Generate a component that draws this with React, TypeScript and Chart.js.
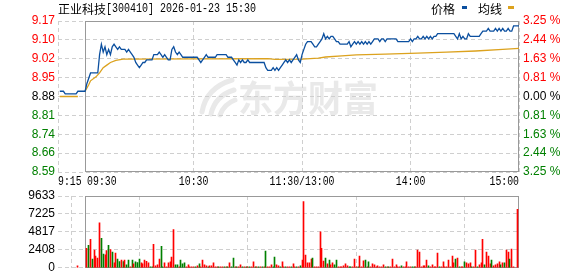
import React, { useEffect, useRef } from "react";
import { Chart, registerables } from "chart.js";

Chart.register(...registerables);

// ---------- text ----------
const stockName = "正业科技";
const stockCodeAndTime = "[300410] 2026-01-23 15:30";
const legendLabels = ["价格", "均线"];
const watermarkText = "东方财富";

// ---------- axes ----------
const prevClose = 8.88;
const pctRange = 3.25;
const timeTickMinutes = [0, 15, 75, 135, 195, 255];
const timeTickLabels = ["9:15", "09:30", "10:30", "11:30/13:00", "14:00", "15:00"];
// bottom -> top
const priceTickLabels = ["8.59", "8.66", "8.74", "8.81", "8.88", "8.95", "9.02", "9.10", "9.17"];
const pctTickLabels = ["3.25 %", "2.44 %", "1.63 %", "0.81 %", "0.00 %", "0.81 %", "1.63 %", "2.44 %", "3.25 %"];
const volMax = 9633;
const volTickValues = [0, 2408, 4817, 7225, 9633];
const volTickLabels = ["0", "2408", "4817", "7225", "9633"];

// ---------- price (minute index: 0 = 9:15, 15 = 9:30, 135 = 11:30/13:00, 255 = 15:00) ----------
const preMarketMinutes = [1, 3, 4, 10, 11, 15];
const preMarketPrices = [8.9, 8.9, 8.89, 8.89, 8.9, 8.9];
const sessionStartMinute = 16;
const sessionPrices = [
  8.93, 8.95, 8.97, 8.97, 8.97, 8.97, 8.97, 9.04, 9.08, 9.05,
  9.07, 9.04, 9.06, 9.04, 9.07, 9.08, 9.07, 9.06, 9.07, 9.06,
  9.06, 9.06, 9.05, 9.06, 9.05, 9.04, 9.03, 9.01, 9.0, 8.99,
  9.0, 9.01, 9.01, 9.02, 9.02, 9.02, 9.02, 9.04, 9.04, 9.04,
  9.05, 9.04, 9.03, 9.04, 9.03, 9.02, 9.02, 9.06, 9.07, 9.05,
  9.04, 9.05, 9.04, 9.03, 9.03, 9.03, 9.03, 9.03, 9.03, 9.03,
  9.03, 9.03, 9.02, 9.01, 9.02, 9.03, 9.04, 9.03, 9.03, 9.03,
  9.03, 9.03, 9.04, 9.04, 9.04, 9.04, 9.04, 9.04, 9.03, 9.03,
  9.03, 9.02, 9.01, 9.0, 9.02, 9.01, 9.02, 9.01, 9.01, 9.02,
  9.01, 9.01, 9.01, 9.01, 9.01, 9.01, 9.01, 9.01, 9.01, 8.99,
  8.98, 8.98, 8.98, 8.99, 8.98, 8.99, 8.98, 8.99, 9.0, 9.01,
  9.02, 9.01, 9.02, 9.01, 9.02, 9.03, 9.04, 9.02, 9.01, 9.04,
  9.06, 9.08, 9.09, 9.09, 9.09, 9.08, 9.07, 9.07, 9.08, 9.09,
  9.1, 9.12, 9.1, 9.11, 9.1, 9.11, 9.11, 9.1, 9.09, 9.09,
  9.08, 9.08, 9.08, 9.08, 9.08, 9.09, 9.07, 9.08, 9.09, 9.08,
  9.09, 9.08, 9.09, 9.08, 9.09, 9.08, 9.09, 9.08, 9.09, 9.1,
  9.1, 9.1, 9.09, 9.1, 9.1, 9.09, 9.1, 9.1, 9.1, 9.1,
  9.1, 9.1, 9.09, 9.09, 9.09, 9.09, 9.09, 9.09, 9.09, 9.1,
  9.09, 9.1, 9.1, 9.11, 9.1, 9.1, 9.11, 9.1, 9.11, 9.1,
  9.11, 9.1, 9.11, 9.11, 9.12, 9.12, 9.12, 9.12, 9.12, 9.12,
  9.12, 9.12, 9.12, 9.12, 9.11, 9.1, 9.12, 9.1, 9.11, 9.1,
  9.1, 9.12, 9.11, 9.11, 9.11, 9.11, 9.11, 9.11, 9.12, 9.13,
  9.13, 9.13, 9.14, 9.13, 9.13, 9.13, 9.14, 9.13, 9.14, 9.13,
  9.14, 9.13, 9.13, 9.14, 9.13, 9.13, 9.15,
];
const closeMinute = 255;
const closePrice = 9.15;

// ---------- average price line ----------
const avgMinutes = [1, 11, 13, 15, 17, 18, 21, 23, 25, 27, 29, 32, 36, 116, 120, 135, 144, 148, 157, 165, 181, 199, 215, 231, 246, 255];
const avgValues = [8.88, 8.88, null, 8.9, 8.925, 8.94, 8.955, 8.97, 8.99, 9.0, 9.01, 9.018, 9.023, 9.025, 9.022, 9.023, 9.027, 9.031, 9.035, 9.039, 9.042, 9.046, 9.05, 9.054, 9.06, 9.064];

// ---------- volume ----------
const auctionMinute = 11;
const auctionVolume = 260;
const volStartMinute = 16;
const volumes = [
  2627, 3021, 3809, 1182, 2364, 1576, 1313, 6042, 3940, 1839,
  1751, 2320, 3021, 2452, 2102, 657, 1970, 1182, 832, 1051,
  832, 1051, 394, 1051, 131, 1051, 525, 788, 700, 1182,
  657, 525, 1051, 876, 657, 131, 131, 3152, 263, 394,
  1182, 2890, 131, 657, 131, 657, 788, 1445, 5123, 394,
  394, 131, 1051, 525, 657, 131, 394, 131, 131, 131,
  131, 263, 525, 131, 1051, 394, 263, 131, 263, 263,
  657, 131, 131, 131, 131, 131, 131, 131, 131, 657,
  131, 1313, 131, 131, 131, 394, 131, 131, 131, 131,
  131, 131, 788, 131, 131, 131, 131, 131, 131, 2233,
  131, 131, 394, 131, 1445, 394, 263, 131, 788, 131,
  131, 131, 131, 131, 525, 131, 131, 131, 263, 1051,
  8870, 1700, 655, 655, 1180, 1310, 131, 131, 131, 4840,
  2615, 915, 1310, 525, 1045, 394, 657, 394, 1045, 131,
  131, 131, 263, 525, 263, 131, 131, 131, 1182, 131,
  131, 1576, 131, 920, 1051, 131, 788, 131, 525, 394,
  131, 263, 131, 131, 394, 131, 131, 131, 131, 1182,
  131, 394, 131, 131, 263, 131, 131, 788, 131, 131,
  131, 131, 131, 2364, 2102, 131, 263, 263, 1051, 263,
  131, 394, 131, 131, 1970, 131, 131, 788, 131, 131,
  1051, 131, 1576, 657, 1182, 1313, 131, 131, 131, 788,
  657, 525, 657, 131, 131, 2364, 131, 394, 657, 3809,
  394, 2102, 1576, 525, 1051, 263, 394, 525, 788, 394,
  657, 657, 2364, 2102, 1182, 2495, 131,
];
// u = price up (red), d = price down (green)
const volTrend = [
  "ududuuuudd", "uududuuddu", "duddududdd", "uuuuudduuu", "udduuuuuud",
  "duddduuuuu", "duduuuuduu", "uuuduududu", "dduduududu", "duudududud",
  "uuudduuduu", "duuduududu", "uuuuuduuuu", "uududuuddu", "uuuuudduuu",
  "duuududuuu", "uuuuududuu", "uuuuduuuuu", "dduuuuuuud", "uuuuuduuuu",
  "uuuududuud", "uuuduuduuu", "duuuduuuud", "uduuduu",
].join("");
const closeVolume = 7850;

// ---------- styles ----------
const RED = "#ff0000";
const GREEN = "#008000";
const DARK = "#000000";
const GRID = "#cfcfcf";
const FRAME = "#999999";
const BLUE = "#0b4f9f";
const ORANGE = "#dca21e";
const LABEL_FONT = { family: "'Liberation Sans', Arial, sans-serif", size: 12 };

const priceMin = prevClose * (1 - pctRange / 100);
const priceMax = prevClose * (1 + pctRange / 100);

const framePlugin = {
  id: "frame",
  beforeDatasetsDraw(chart: any) {
    const { ctx, chartArea } = chart;
    const xs = chart.scales.x;
    const x0 = Math.round(xs.getPixelForValue(timeTickMinutes[1])) + 0.5;
    const x1 = Math.round(xs.getPixelForValue(timeTickMinutes[timeTickMinutes.length - 1])) - 0.5;
    const y0 = Math.round(chartArea.top) + 0.5;
    const y1 = Math.round(chartArea.bottom) - 0.5;
    ctx.save();
    ctx.strokeStyle = FRAME;
    ctx.lineWidth = 1;
    ctx.strokeRect(x0, y0, x1 - x0, y1 - y0);
    ctx.restore();
  },
};

// snap the 1px volume bars onto whole pixels (inside the frame) so they render crisp
const crispBarsPlugin = {
  id: "crispBars",
  beforeDatasetsDraw(chart: any) {
    const limit = Math.round(chart.chartArea.right) - 1.5;
    chart.getSortedVisibleDatasetMetas().forEach((meta: any) => {
      meta.data.forEach((el: any) => {
        el.x = Math.min(Math.floor(el.x) + 0.5, limit);
        el.width = 1;
      });
    });
  },
};

const watermarkPlugin = {
  id: "watermark",
  beforeDraw(chart: any) {
    const { ctx } = chart;
    ctx.save();
    ctx.fillStyle = "#e9e9e9";
    ctx.strokeStyle = "#e9e9e9";
    ctx.lineCap = "round";
    ctx.lineWidth = 5;
    ctx.beginPath();
    ctx.moveTo(202, 112);
    ctx.quadraticCurveTo(206, 88, 232, 80);
    ctx.stroke();
    ctx.beginPath();
    ctx.moveTo(211, 114);
    ctx.quadraticCurveTo(215, 96, 234, 90);
    ctx.stroke();
    ctx.beginPath();
    ctx.moveTo(220, 115);
    ctx.quadraticCurveTo(224, 104, 235, 100);
    ctx.stroke();
    ctx.font = "bold 36px 'Noto Sans CJK SC'";
    ctx.textAlign = "left";
    ctx.textBaseline = "alphabetic";
    ctx.fillText(watermarkText, 238, 112, 140);
    ctx.restore();
  },
};

const headerPlugin = {
  id: "header",
  afterDraw(chart: any) {
    const { ctx, chartArea } = chart;
    ctx.save();
    ctx.textBaseline = "middle";
    ctx.textAlign = "left";
    ctx.fillStyle = "#000";
    ctx.font = "12px 'Noto Sans CJK SC'";
    const left = chartArea.left;
    ctx.fillText(stockName, left, 9);
    const nameW = ctx.measureText(stockName).width;
    ctx.font = "12px 'Liberation Mono'";
    ctx.fillText(stockCodeAndTime, left + nameW, 9, stockCodeAndTime.length * 6);

    // legend
    const right = chartArea.right;
    ctx.font = "12px 'Noto Sans CJK SC'";
    ctx.fillText(legendLabels[0], right - 88, 9);
    ctx.fillStyle = BLUE;
    ctx.fillRect(right - 57, 6, 5, 3);
    ctx.fillStyle = "#000";
    ctx.fillText(legendLabels[1], right - 41, 9);
    ctx.fillStyle = ORANGE;
    ctx.fillRect(right - 11, 6, 6, 3);

    // time labels
    const xs = chart.scales.x;
    ctx.fillStyle = "#000";
    ctx.font = "12px 'Liberation Mono'";
    const y = chartArea.bottom + 10;
    timeTickLabels.forEach((lab, i) => {
      const px = xs.getPixelForValue(timeTickMinutes[i]);
      let x = px;
      let align: CanvasTextAlign = "center";
      if (i === 0) align = "left";
      else if (i === 1) {
        align = "left";
        x = px + 2;
      } else if (i === timeTickLabels.length - 1) align = "right";
      ctx.textAlign = align;
      ctx.fillText(lab, x, y, lab.length * 5.9);
    });
    ctx.restore();
  },
};

function setTicks(values: number[]) {
  return (s: any) => {
    s.ticks = values.map((v) => ({ value: v }));
  };
}

function evenly(min: number, max: number, n: number) {
  const out: number[] = [];
  for (let i = 0; i < n; i++) out.push(min + ((max - min) * i) / (n - 1));
  return out;
}

function tickColor(n: number) {
  const mid = Math.floor(n / 2);
  return (c: any) => (c.index > mid ? RED : c.index < mid ? GREEN : DARK);
}

export default function App() {
  const priceRef = useRef<HTMLCanvasElement>(null);
  const volRef = useRef<HTMLCanvasElement>(null);

  useEffect(() => {
    const pricePoints = [
      ...preMarketMinutes.map((m, i) => ({ x: m, y: preMarketPrices[i] })),
      ...sessionPrices.map((p, i) => ({ x: sessionStartMinute + i, y: p })),
      { x: closeMinute, y: closePrice },
    ];
    const avgPoints = avgMinutes.map((m, i) => ({ x: m, y: avgValues[i] }));

    const xGrid = {
      type: "linear" as const,
      min: timeTickMinutes[0],
      max: timeTickMinutes[timeTickMinutes.length - 1],
      offset: false,
      afterBuildTicks: setTicks(timeTickMinutes),
      ticks: { display: false },
      grid: { color: GRID, drawTicks: false, lineWidth: 1 },
      border: { display: false, dash: [4, 3] },
    };

    const priceChart = new Chart(priceRef.current!, {
      type: "line",
      data: {
        datasets: [
          {
            data: pricePoints,
            borderColor: BLUE,
            borderWidth: 1.3,
            pointRadius: 0,
            tension: 0,
            yAxisID: "y",
          },
          {
            data: avgPoints as any,
            borderColor: ORANGE,
            borderWidth: 1.3,
            pointRadius: 0,
            tension: 0,
            spanGaps: false,
            yAxisID: "y",
          },
        ],
      },
      options: {
        responsive: false,
        animation: false,
        events: [],
        layout: { padding: { top: 21, left: 0, right: 0, bottom: 0 } },
        plugins: { legend: { display: false }, tooltip: { enabled: false } },
        scales: {
          x: { ...xGrid, afterFit: (s: any) => { s.height = 18; } },
          y: {
            type: "linear",
            position: "left",
            min: priceMin,
            max: priceMax,
            afterBuildTicks: setTicks(evenly(priceMin, priceMax, priceTickLabels.length)),
            afterFit: (s: any) => { s.width = 58; },
            ticks: {
              padding: 3,
              font: LABEL_FONT,
              color: tickColor(priceTickLabels.length),
              callback: (_v: any, i: number) => priceTickLabels[i],
            },
            grid: { color: GRID, drawTicks: false, lineWidth: 1 },
            border: { display: false, dash: [4, 3] },
          },
          pct: {
            type: "linear",
            position: "right",
            min: -pctRange,
            max: pctRange,
            afterBuildTicks: setTicks(evenly(-pctRange, pctRange, pctTickLabels.length)),
            afterFit: (s: any) => { s.width = 59; },
            ticks: {
              padding: 4,
              font: LABEL_FONT,
              color: tickColor(pctTickLabels.length),
              callback: (_v: any, i: number) => pctTickLabels[i],
            },
            grid: { display: false, drawTicks: false },
            border: { display: false },
          },
        },
      } as any,
      plugins: [watermarkPlugin, framePlugin, headerPlugin],
    });

    const volPoints = [
      { x: auctionMinute, y: auctionVolume },
      ...volumes.map((v, i) => ({ x: volStartMinute + i, y: v })),
      { x: closeMinute, y: closeVolume },
    ];
    const volColors = ["u", ...volTrend.split(""), "u"].map((c) => (c === "u" ? RED : GREEN));

    const volChart = new Chart(volRef.current!, {
      type: "bar",
      data: {
        datasets: [
          {
            data: volPoints as any,
            backgroundColor: volColors,
            borderWidth: 0,
            barThickness: 1,
            grouped: false,
          } as any,
        ],
      },
      options: {
        responsive: false,
        animation: false,
        events: [],
        layout: { padding: { top: 12, left: 0, right: 59, bottom: 8 } },
        plugins: { legend: { display: false }, tooltip: { enabled: false } },
        scales: {
          x: { ...xGrid, afterFit: (s: any) => { s.height = 0; } },
          y: {
            type: "linear",
            position: "left",
            min: 0,
            max: volMax,
            afterBuildTicks: setTicks(volTickValues),
            afterFit: (s: any) => { s.width = 58; },
            ticks: {
              padding: 3,
              font: LABEL_FONT,
              color: DARK,
              callback: (_v: any, i: number) => volTickLabels[i],
            },
            grid: { color: GRID, drawTicks: false, lineWidth: 1 },
            border: { display: false, dash: [4, 3] },
          },
        },
      } as any,
      plugins: [framePlugin, crispBarsPlugin],
    });

    return () => {
      priceChart.destroy();
      volChart.destroy();
    };
  }, []);

  return (
    <div style={{ position: "fixed", left: 0, top: 0, width: 578, height: 276, background: "#fff", overflow: "hidden" }}>
      <canvas ref={priceRef} width={578} height={190} style={{ position: "absolute", left: 0, top: 0 }} />
      <canvas ref={volRef} width={578} height={94} style={{ position: "absolute", left: 0, top: 184 }} />
    </div>
  );
}
